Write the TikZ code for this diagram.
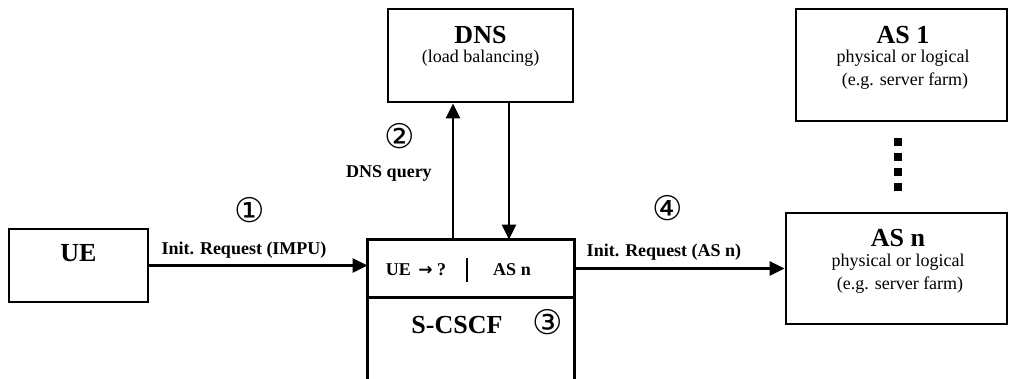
\documentclass[tikz,border=0pt]{standalone}
\usepackage{fontspec}
\setmainfont{Liberation Serif}
\newfontfamily\circfont{DejaVu Sans}
\usetikzlibrary{arrows.meta}
\begin{document}
\begin{tikzpicture}[x=1pt,y=-1pt, line width=2.8pt,
 box/.style={draw, rectangle, inner sep=0pt},
 arr/.style={-{Triangle[length=15pt,width=14pt]}},
 lbl/.style={font=\bfseries\fontsize{18}{20}\selectfont, inner sep=0pt},
 num/.style={font=\circfont\fontsize{34}{34}\selectfont, inner sep=0pt},
 ttl/.style={font=\bfseries\fontsize{26}{28}\selectfont, inner sep=0pt},
 sub/.style={font=\fontsize{18}{21}\selectfont, inner sep=0pt}]
\useasboundingbox (0,0) rectangle (1009,378);

% boxes
\node[box, minimum width=139pt, minimum height=73pt] (ue) at (78.5,265.5) {};
\node[ttl] (uet) at (78.5,253) {UE};

\node[box, minimum width=185pt, minimum height=93pt] (dns) at (480.5,55.5) {};
\node[ttl] (dnst) at (480.5,35) {DNS};
\node[sub] (dnss) at (480.5,58) {(load balancing)};

\node[box, minimum width=211pt, minimum height=112pt] (as1) at (901.5,65) {};
\node[ttl] (as1t) at (903,35) {AS 1};
\node[sub] (as1a) at (903,58) {physical or logical};
\node[sub] (as1b) at (905,81) {(e.g. server farm)};

\node[box, minimum width=221pt, minimum height=111pt] (asn) at (896.5,268.5) {};
\node[ttl] (asnt) at (898,238) {AS n};
\node[sub] (asna) at (898,262) {physical or logical};
\node[sub] (asnb) at (900,285) {(e.g. server farm)};

% S-CSCF
\node[rectangle, inner sep=0pt, minimum width=204pt, minimum height=55pt] (top) at (471,268.5) {};
\draw[line join=miter] ([yshift=-120pt]top.south west) -- (top.north west) -- (top.north east) -- ([yshift=-120pt]top.south east);
\draw (top.south west) -- (top.south east);
\node[lbl] (uq) at (416,270) {UE\, {\circfont\bfseries\fontsize{17}{20}\selectfont →} ?};
\node[lbl] (asnc) at (512,270) {AS n};
\coordinate (bart) at (467,258);
\coordinate (barb) at (467,282);
\draw[line width=2pt] (bart) -- (barb);
\node[ttl] (scscf) at (457,325) {S-CSCF};

% dots
\coordinate (d1) at (898,138);
\coordinate (d2) at (898,192);
\draw[line width=8pt, dash pattern=on 8pt off 7pt] (d1) -- (d2);

% connectors
\coordinate (qx) at (453,0);
\coordinate (ax) at (509,0);
\draw[arr] (ue.east) -- (ue.east -| top.west);
\draw[arr] (top.north -| qx) -- (dns.south -| qx);
\draw[arr] (dns.south -| ax) -- (top.north -| ax);
\draw[arr] (top.east) -- (top.east -| asn.west);

% labels
\node[num] (n1) at (250,210) {①};
\node[lbl] (l1) at (244,250) {Init. Request (IMPU)};
\node[num] (n2) at (400,136) {②};
\node[lbl] (l2) at (389,173) {DNS query};
\node[num] (n3) at (548,322) {③};
\node[num] (n4) at (668,208) {④};
\node[lbl] (l4) at (664,252) {Init. Request (AS n)};
\end{tikzpicture}
\end{document}
